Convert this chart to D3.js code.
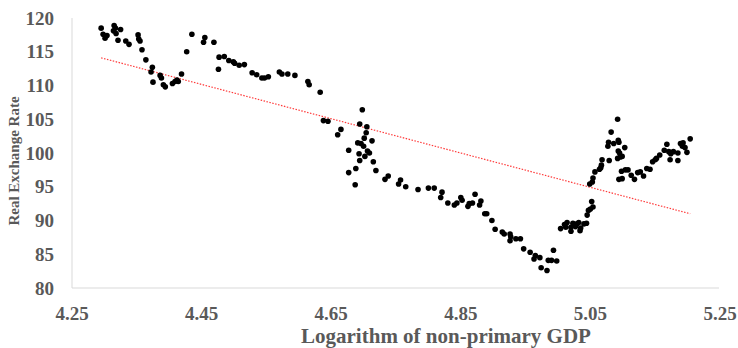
<!DOCTYPE html>
<html>
<head>
<meta charset="utf-8">
<script src="https://cdn.jsdelivr.net/npm/d3@7"></script>
<style>
  body { margin: 0; background: #fff; }
  text { font-family: "Liberation Serif", "DejaVu Serif", serif; fill: #595959; }
</style>
</head>
<body>
<svg id="chart" width="738" height="348"></svg>
<script>
// log of non-primary GDP (x) and real exchange rate (y)
var gdpLog = [
  4.295, 4.298, 4.301, 4.304, 4.315, 4.317, 4.314, 4.318, 4.325, 4.321,
  4.333, 4.338, 4.352, 4.353, 4.355, 4.358, 4.364, 4.374, 4.372, 4.375,
  4.386, 4.388, 4.391, 4.394, 4.405, 4.409, 4.412, 4.414, 4.419, 4.427,
  4.435, 4.453, 4.455, 4.469, 4.476, 4.477, 4.485, 4.492, 4.499, 4.501,
  4.508, 4.516, 4.528, 4.535, 4.543, 4.547, 4.553, 4.570, 4.574, 4.583,
  4.594, 4.614, 4.616, 4.633, 4.638, 4.645, 4.665, 4.660, 4.677, 4.677,
  4.688, 4.687, 4.698, 4.694, 4.705, 4.704, 4.701, 4.691, 4.696, 4.700,
  4.713, 4.706, 4.709, 4.693, 4.702, 4.694, 4.715, 4.719, 4.733, 4.738,
  4.757, 4.754, 4.765, 4.784, 4.800, 4.809, 4.821, 4.819, 4.830, 4.840,
  4.844, 4.850, 4.852, 4.861, 4.863, 4.868, 4.872, 4.881, 4.879, 4.887,
  4.890, 4.898, 4.903, 4.914, 4.917, 4.926, 4.927, 4.926, 4.935, 4.942,
  4.947, 4.957, 4.965, 4.963, 4.972, 4.974, 4.983, 4.985, 4.990, 4.998,
  4.993, 5.004, 5.010, 5.012, 5.014, 5.020, 5.020, 5.023, 5.027, 5.029,
  5.032, 5.034, 5.035, 5.040, 5.044, 5.045, 5.047, 5.050, 5.054, 5.052,
  5.049, 5.053, 5.054, 5.057, 5.064, 5.066, 5.067, 5.068, 5.079, 5.077,
  5.078, 5.082, 5.086, 5.092, 5.093, 5.094, 5.093, 5.095, 5.103, 5.092,
  5.096, 5.099, 5.098, 5.104, 5.108, 5.094, 5.099, 5.113, 5.118, 5.123,
  5.127, 5.132, 5.137, 5.142, 5.146, 5.150, 5.152, 5.157, 5.164, 5.168,
  5.171, 5.174, 5.173, 5.178, 5.185, 5.185, 5.189, 5.192, 5.193, 5.196,
  5.199, 5.204
];
var rer = [
  118.5, 117.6, 117.0, 117.4, 118.9, 118.5, 118.1, 117.7, 118.3, 116.7,
  116.6, 116.1, 117.5, 116.9, 116.6, 115.3, 113.8, 112.7, 112.0, 110.5,
  111.5, 111.1, 110.1, 109.8, 110.3, 110.6, 110.8, 110.6, 111.7, 115.0,
  117.6, 116.4, 117.1, 116.4, 112.4, 114.2, 114.3, 113.7, 113.5, 113.3,
  113.0, 113.1, 111.9, 111.6, 111.1, 111.1, 111.3, 112.0, 111.7, 111.7,
  111.5, 110.6, 110.1, 109.0, 104.8, 104.7, 103.5, 102.7, 100.4, 97.1,
  97.7, 95.3, 106.4, 104.3, 103.9, 103.0, 102.2, 101.5, 101.4, 101.0,
  101.8, 100.3, 100.0, 99.9, 99.5, 98.9, 98.7, 97.4, 96.1, 96.6,
  96.0, 95.4, 95.0, 94.6, 94.8, 94.8, 94.2, 93.4, 92.6, 92.3,
  92.6, 93.4, 93.0, 92.1, 92.5, 92.6, 93.9, 92.9, 92.3, 91.0,
  91.0, 90.0, 88.7, 88.3, 88.0, 88.0, 87.6, 87.0, 87.3, 87.3,
  85.8, 85.3, 84.8, 84.3, 84.5, 83.0, 82.6, 84.1, 84.1, 84.0,
  85.6, 88.8, 89.4, 89.0, 89.7, 88.4, 89.0, 89.6, 89.1, 89.5,
  89.7, 88.5, 88.9, 89.5, 89.6, 90.8, 91.5, 91.7, 92.0, 92.8,
  95.4, 95.7, 96.3, 97.2, 97.6, 97.8, 98.2, 99.0, 98.9, 101.0,
  101.6, 103.1, 101.4, 105.0, 101.9, 101.6, 100.3, 100.0, 100.8, 99.2,
  99.4, 99.5, 97.3, 97.5, 97.5, 96.1, 96.2, 96.7, 96.1, 97.1,
  97.2, 96.6, 97.7, 97.6, 98.7, 99.0, 99.2, 99.7, 100.4, 101.3,
  100.2, 99.9, 99.0, 100.2, 100.0, 98.9, 101.4, 101.0, 101.5, 100.8,
  100.1, 102.1
];
// linear trend line end points
var trendX = [4.295, 5.204];
var trendY = [114.1, 91.0];

var xTicks = [4.25, 4.45, 4.65, 4.85, 5.05, 5.25];
var yTicks = [80, 85, 90, 95, 100, 105, 110, 115, 120];

var svg = d3.select("#chart");
var plotLeft = 72, plotRight = 719, plotTop = 18, plotBottom = 288;

var x = d3.scaleLinear().domain([4.25, 5.25]).range([plotLeft, 720]);
var y = d3.scaleLinear().domain([80, 120]).range([plotBottom, plotTop]);

// axis lines
svg.append("line")
  .attr("x1", plotLeft).attr("x2", plotLeft).attr("y1", plotTop).attr("y2", plotBottom)
  .attr("stroke", "#d9d9d9").attr("stroke-width", 1);
svg.append("line")
  .attr("x1", plotLeft).attr("x2", plotRight).attr("y1", plotBottom).attr("y2", plotBottom)
  .attr("stroke", "#d9d9d9").attr("stroke-width", 1);

// tick labels
svg.selectAll(".ylab").data(yTicks).enter().append("text")
  .attr("class", "ylab")
  .attr("x", 54)
  .attr("y", function(d) { return y(d) + 6.5; })
  .attr("text-anchor", "end")
  .style("font-size", "19px")
  .style("font-weight", "bold")
  .text(function(d) { return d; });

svg.selectAll(".xlab").data(xTicks).enter().append("text")
  .attr("class", "xlab")
  .attr("x", function(d) { return x(d); })
  .attr("y", 320)
  .attr("text-anchor", "middle")
  .style("font-size", "19px")
  .style("font-weight", "bold")
  .text(function(d) { return d.toFixed(2); });

// axis titles
svg.append("text")
  .attr("x", 446).attr("y", 343)
  .attr("text-anchor", "middle")
  .style("font-size", "21px")
  .style("font-weight", "bold")
  .text("Logarithm of non-primary GDP");

svg.append("text")
  .attr("transform", "translate(19,161) rotate(-90)")
  .attr("text-anchor", "middle")
  .style("font-size", "15px")
  .style("font-weight", "bold")
  .text("Real Exchange Rate");

// trend line
svg.append("line")
  .attr("x1", x(trendX[0])).attr("y1", y(trendY[0]))
  .attr("x2", x(trendX[1])).attr("y2", y(trendY[1]))
  .attr("stroke", "#ff3b3b")
  .attr("stroke-width", 1.2)
  .attr("stroke-dasharray", "1.5,1.5");

// points
svg.selectAll("circle").data(gdpLog).enter().append("circle")
  .attr("cx", function(d) { return x(d); })
  .attr("cy", function(d, i) { return y(rer[i]); })
  .attr("r", 2.8)
  .attr("fill", "#000");
</script>
</body>
</html>
